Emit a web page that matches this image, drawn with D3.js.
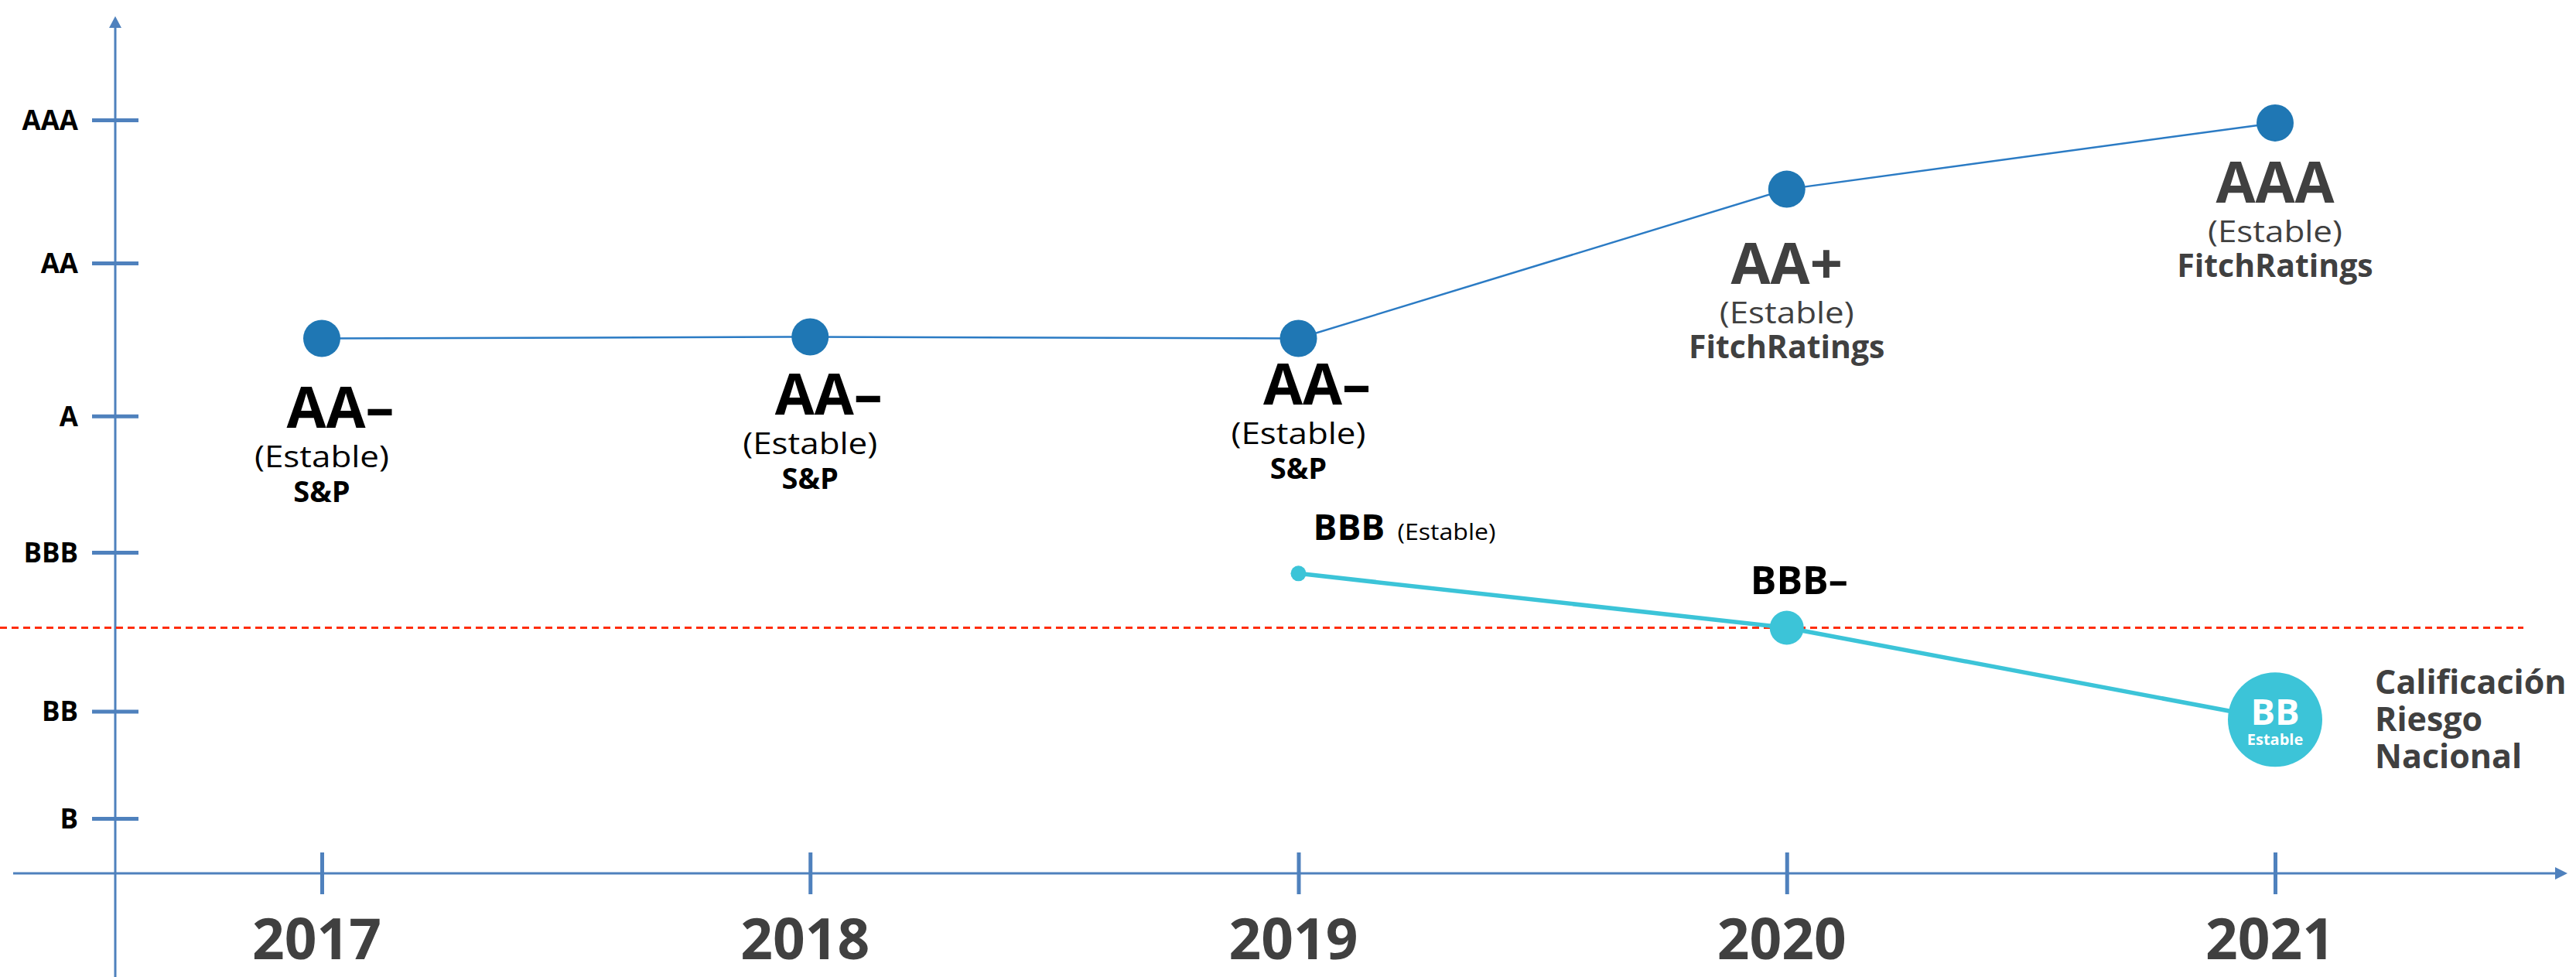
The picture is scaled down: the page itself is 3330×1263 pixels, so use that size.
<!DOCTYPE html>
<html>
<head>
<meta charset="utf-8">
<script src="https://cdn.jsdelivr.net/npm/d3@7"></script>
<style>
    body { margin: 0; background: #fff; }
    svg { display: block; font-family: 'Open Sans', sans-serif; }
</style>
</head>
<body>
<div id="chart"></div>
<script>
// years on the x axis
let years = [2017, 2018, 2019, 2020, 2021];

// rating scale ticks, scores (0 = x axis, 100 = AAA)
let ratingTicks = ["AAA", "AA", "A", "BBB", "BB", "B"];
let ratingScores = [100, 81, 60.7, 42.6, 21.5, 7.3];

// international rating (S&P, then Fitch)
let intlScores = [71, 71.2, 71, 90.8, 99.6];
let intlRatings = ["AA–", "AA–", "AA–", "AA+", "AAA"];
let intlAgencies = ["S&P", "S&P", "S&P", "FitchRatings", "FitchRatings"];
let outlook = "(Estable)";

// national risk rating
let natYears = [2019, 2020, 2021];
let natScores = [39.8, 32.6, 20.4];
let natRatings = ["BBB", "BBB–", "BB"];
let natTitle = ["Calificación", "Riesgo", "Nacional"];

// dashed red threshold
let threshold = 32.6;

ratingChart('#chart');

function ratingChart(selector) {
    let width = 3330, height = 1263;
    let axisX = 149, axisY = 1129;
    let axisColor = "#4f81bd",
        blue = "#1f77b4",
        blueLine = "#2b7bc4",
        cyan = "#3cc4d8",
        red = "#ff2d0a",
        grey = "#404040";

    let svg = d3.select(selector)
        .append("svg")
        .attr("width", width)
        .attr("height", height);

    let x = d3.scaleLinear().domain([2017, 2021]).range([416, 2941]);
    let y = d3.scaleLinear().domain([0, 100]).range([axisY, 155]);

    // x axis
    let xAxis = svg.append("g")
        .attr("transform", "translate(0," + axisY + ")")
        .call(d3.axisBottom(x).tickValues(years).tickFormat(d3.format("d")).tickSize(27))
        .attr("font-family", null)
        .attr("font-size", null);
    xAxis.select(".domain").remove();
    xAxis.selectAll(".tick line")
        .attr("y1", -27)
        .attr("stroke", axisColor)
        .attr("stroke-width", 5);
    xAxis.selectAll(".tick text")
        .attr("y", 111)
        .attr("dy", 0)
        .attr("dx", -7)
        .attr("fill", grey)
        .style("font-size", "73px")
        .style("font-weight", 700);

    svg.append("line")
        .attr("x1", 17).attr("x2", 3305)
        .attr("y1", axisY).attr("y2", axisY)
        .attr("stroke", axisColor).attr("stroke-width", 3);
    svg.append("path")
        .attr("d", "M3303," + (axisY - 8) + "L3319," + axisY + "L3303," + (axisY + 8) + "Z")
        .attr("fill", axisColor);

    // y axis
    let yAxis = svg.append("g")
        .attr("transform", "translate(" + axisX + ",0)")
        .call(d3.axisLeft(y).tickValues(ratingScores).tickFormat((d, i) => ratingTicks[i]).tickSize(30))
        .attr("font-family", null)
        .attr("font-size", null);
    yAxis.select(".domain").remove();
    yAxis.selectAll(".tick line")
        .attr("x1", 30)
        .attr("stroke", axisColor)
        .attr("stroke-width", 5);
    yAxis.selectAll(".tick text")
        .attr("x", -48)
        .attr("dy", "0.35em")
        .attr("fill", "#000")
        .style("font-size", "35px")
        .style("font-weight", 700);

    svg.append("line")
        .attr("x1", axisX).attr("x2", axisX)
        .attr("y1", 34).attr("y2", height)
        .attr("stroke", axisColor).attr("stroke-width", 3);
    svg.append("path")
        .attr("d", "M" + (axisX - 8) + ",36L" + axisX + ",21L" + (axisX + 8) + ",36Z")
        .attr("fill", axisColor);

    // threshold
    svg.append("line")
        .attr("x1", 0).attr("x2", 3262)
        .attr("y1", y(threshold)).attr("y2", y(threshold))
        .attr("stroke", red)
        .attr("stroke-width", 3)
        .attr("stroke-dasharray", "9,6");

    let intl = years.map((d, i) => ({
        year: d, score: intlScores[i], rating: intlRatings[i], agency: intlAgencies[i]
    }));
    let nat = natYears.map((d, i) => ({ year: d, score: natScores[i], rating: natRatings[i] }));

    let line = d3.line().x(d => x(d.year)).y(d => y(d.score));

    svg.append("path")
        .datum(intl)
        .attr("d", line)
        .attr("fill", "none")
        .attr("stroke", blueLine)
        .attr("stroke-width", 2.5);

    svg.append("path")
        .datum(nat)
        .attr("d", line)
        .attr("fill", "none")
        .attr("stroke", cyan)
        .attr("stroke-width", 5.5);

    svg.selectAll(".intl-dot")
        .data(intl)
        .enter()
        .append("circle")
        .attr("class", "intl-dot")
        .attr("cx", d => x(d.year))
        .attr("cy", d => y(d.score))
        .attr("r", 24)
        .attr("fill", blue);

    let natRadius = [10, 22, 61];
    svg.selectAll(".nat-dot")
        .data(nat)
        .enter()
        .append("circle")
        .attr("class", "nat-dot")
        .attr("cx", d => x(d.year))
        .attr("cy", d => y(d.score))
        .attr("r", (d, i) => natRadius[i])
        .attr("fill", cyan);

    // labels under the international points
    let labelDy = [16, 0, -14, 22, 3];
    let ink = d => d.agency === "S&P" ? "#000" : grey;
    let labels = svg.selectAll(".intl-label")
        .data(intl)
        .enter()
        .append("g")
        .attr("class", "intl-label")
        .attr("transform", (d, i) => "translate(" + x(d.year) + "," + (y(d.score) + labelDy[i]) + ")")
        .attr("text-anchor", "middle");
    labels.append("text")
        .attr("y", 100)
        .attr("dx", d => d.rating.endsWith("–") ? 24 : 0)
        .attr("fill", ink)
        .style("font-size", "74px")
        .style("font-weight", 700)
        .text(d => d.rating);
    labels.append("text")
        .attr("y", 151)
        .attr("fill", ink)
        .attr("textLength", 174)
        .attr("lengthAdjust", "spacingAndGlyphs")
        .style("font-size", "38px")
        .text(outlook);
    labels.append("text")
        .attr("y", 196)
        .attr("fill", ink)
        .style("font-size", d => d.agency === "S&P" ? "38px" : "41px")
        .style("font-weight", 700)
        .text(d => d.agency);

    // national labels
    let n0 = nat[0], n1 = nat[1], n2 = nat[2];
    svg.append("text")
        .attr("x", x(n0.year) + 19)
        .attr("y", y(n0.score) - 43)
        .style("font-size", "46px")
        .style("font-weight", 700)
        .text(n0.rating);
    svg.append("text")
        .attr("x", x(n0.year) + 128)
        .attr("y", y(n0.score) - 43)
        .attr("textLength", 127)
        .attr("lengthAdjust", "spacingAndGlyphs")
        .style("font-size", "30px")
        .text(outlook);

    svg.append("text")
        .attr("x", x(n1.year) + 16)
        .attr("y", y(n1.score) - 43)
        .attr("text-anchor", "middle")
        .style("font-size", "50px")
        .style("font-weight", 700)
        .text(n1.rating);

    svg.append("text")
        .attr("x", x(n2.year))
        .attr("y", y(n2.score) + 7)
        .attr("text-anchor", "middle")
        .attr("fill", "#fff")
        .style("font-size", "47px")
        .style("font-weight", 700)
        .text(n2.rating);
    svg.append("text")
        .attr("x", x(n2.year))
        .attr("y", y(n2.score) + 33)
        .attr("text-anchor", "middle")
        .attr("fill", "#fff")
        .style("font-size", "20px")
        .style("font-weight", 700)
        .text("Estable");

    svg.selectAll(".nat-title")
        .data(natTitle)
        .enter()
        .append("text")
        .attr("class", "nat-title")
        .attr("x", x(n2.year) + 129)
        .attr("y", (d, i) => y(n2.score) - 33 + i * 48)
        .attr("fill", grey)
        .style("font-size", "43px")
        .style("font-weight", 700)
        .text(d => d);
}
</script>
</body>
</html>
